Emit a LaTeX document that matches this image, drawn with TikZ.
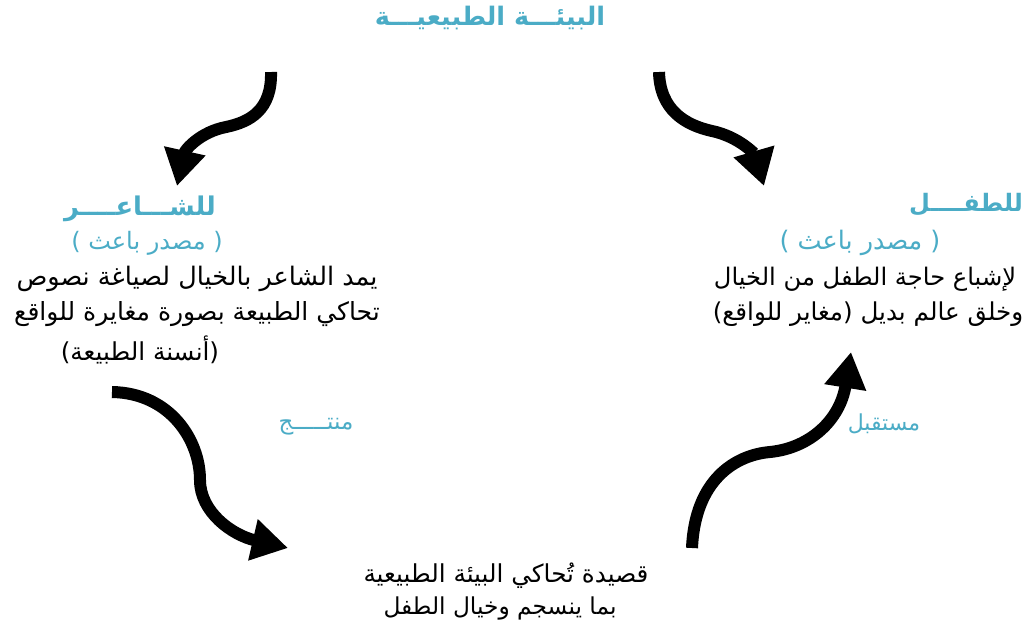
\documentclass[tikz,border=0pt]{standalone}
\usepackage{fontspec}
\usetikzlibrary{arrows.meta}
\TeXXeTstate=1
\newfontfamily\arabicfont[Script=Arabic]{DejaVu Sans}
\definecolor{accent}{RGB}{75,172,198}
\tikzset{
  headtxt/.style={font=\arabicfont\bfseries\fontsize{#1}{#1}\selectfont, text=accent, inner sep=0pt},
  subtxt/.style={font=\arabicfont\fontsize{#1}{#1}\selectfont, text=accent, inner sep=0pt},
  bodytxt/.style={font=\arabicfont\fontsize{#1}{#1}\selectfont, text=black, inner sep=0pt},
  flow/.style={line width=12pt, -{Triangle[length=36pt,width=40pt]}},
}
\begin{document}
\begin{tikzpicture}[x=1pt,y=-1pt]
\useasboundingbox (0,0) rectangle (1031,630);
% top
\node[headtxt=25.5] (env) at (490,18) {\beginR البيئـــة الطبيعيـــة\endR};
% left block
\node[headtxt=25.8] (poet) at (140,209) {\beginR للشـــاعــــر\endR};
\node[subtxt=24] (poetsrc) at (147,243) {\beginR ( مصدر باعث )\endR};
\node[bodytxt=25.5] (pl1) at (197,279) {\beginR يمد الشاعر بالخيال لصياغة نصوص\endR};
\node[bodytxt=25] (pl2) at (197,314) {\beginR تحاكي الطبيعة بصورة مغايرة للواقع\endR};
\node[bodytxt=24.7] (pl3) at (140,350) {\beginR (أنسنة الطبيعة)\endR};
% right block
\node[headtxt=24] (child) at (966,205) {\beginR للطفــــل\endR};
\node[subtxt=25.5] (childsrc) at (860,243) {\beginR ( مصدر باعث )\endR};
\node[bodytxt=24.2] (cl1) at (865,279) {\beginR لإشباع حاجة الطفل من الخيال\endR};
\node[bodytxt=24.6] (cl2) at (868,314) {\beginR وخلق عالم بديل (مغاير للواقع)\endR};
% bottom
\node[bodytxt=24.7] (poem1) at (506,576) {\beginR قصيدة تُحاكي البيئة الطبيعية\endR};
\node[bodytxt=23.3] (poem2) at (500,608) {\beginR بما ينسجم وخيال الطفل\endR};
% labels
\node[subtxt=23] (prod) at (316,427) {\beginR منتـــــج\endR};
\node[subtxt=22] (recv) at (884,424) {\beginR مستقبل\endR};
% arrow coordinates
\coordinate (a1s) at (271,72);
\coordinate (a1e) at (177,186);
\coordinate (a2s) at (659,72);
\coordinate (a2e) at (764,186);
\coordinate (a3s) at (112,392);
\coordinate (a3e) at (288,548);
\coordinate (a4s) at (692,548);
\coordinate (a4e) at (851,352);
\draw[flow] (a1s) .. controls (272,110) and (250,122) .. (226,127) .. controls (200,132) and (185,150) .. (a1e);
\draw[flow] (a2s) .. controls (660,110) and (685,125) .. (712,131) .. controls (740,137) and (755,155) .. (a2e);
\draw[flow] (a3s) .. controls (170,393) and (200,440) .. (200,480) .. controls (200,512) and (232,535) .. (a3e);
\draw[flow] (a4s) .. controls (695,480) and (735,455) .. (770,452) .. controls (810,448) and (840,420) .. (a4e);
\end{tikzpicture}
\end{document}
